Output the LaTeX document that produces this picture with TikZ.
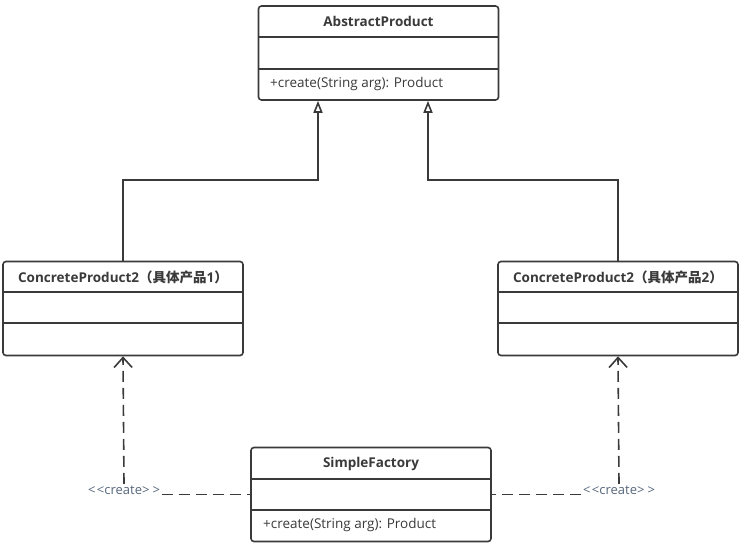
\documentclass[tikz,border=0pt]{standalone}
\usepackage{fontspec}
\setmainfont{Open Sans}
\newfontfamily\cjk{Noto Sans CJK SC}
\newfontfamily\lblfont{Open Sans}
\usetikzlibrary{arrows.meta}
\definecolor{ln}{HTML}{3A3A3A}
\definecolor{lbltext}{HTML}{56677A}
\tikzset{
  classbox/.style={draw=ln, line width=1.6pt, rounded corners=3pt, minimum width=240pt, minimum height=94pt, inner sep=0pt, fill=white},
  divider/.style={draw=ln, line width=1.6pt},
  title/.style={font=\fontsize{13.5}{15}\selectfont\bfseries, text=ln, inner sep=0pt},
  member/.style={font=\fontsize{13.5}{15}\selectfont, text=ln, inner sep=0pt, anchor=west},
  inherit/.style={draw=ln, line width=1.6pt, -{Triangle[open, length=12pt, width=9pt, fill=white]}},
  dep/.style={draw=ln, line width=1.6pt, dash pattern=on 11pt off 6pt},
  deparrow/.style={dep, -{Straight Barb[length=10pt, width=18pt]}},
  lbl/.style={font=\lblfont\fontsize{13}{15}\selectfont, text=lbltext, inner sep=1.5pt}
}
\begin{document}
\begin{tikzpicture}[x=1pt, y=-1pt]
\useasboundingbox (0,0) rectangle (753,548);
% AbstractProduct
\node[classbox] (ap) at (378.5,53) {};
\draw[divider] (ap.west |- 0,37) -- (ap.east |- 0,37);
\draw[divider] (ap.west |- 0,69) -- (ap.east |- 0,69);
\node[title] (apt) at (378.5,21) {AbstractProduct};
\node[member] (apm) at (270,84) {+create(String arg): Product};
% Concrete 1
\node[classbox] (c1) at (123,308.5) {};
\draw[divider] (c1.west |- 0,292) -- (c1.east |- 0,292);
\draw[divider] (c1.west |- 0,323) -- (c1.east |- 0,323);
\node[title] (c1t) at (123,277) {ConcreteProduct2{\cjk（具体产品}1{\cjk）}};
% Concrete 2
\node[classbox] (c2) at (618,308.5) {};
\draw[divider] (c2.west |- 0,292) -- (c2.east |- 0,292);
\draw[divider] (c2.west |- 0,323) -- (c2.east |- 0,323);
\node[title] (c2t) at (618,277) {ConcreteProduct2{\cjk（具体产品}2{\cjk）}};
% SimpleFactory
\node[classbox] (sf) at (371,494.5) {};
\draw[divider] (sf.west |- 0,479) -- (sf.east |- 0,479);
\draw[divider] (sf.west |- 0,510) -- (sf.east |- 0,510);
\node[title] (sft) at (371,464) {SimpleFactory};
\node[member] (sfm) at (263,525) {+create(String arg): Product};
% inheritance
\coordinate (j1) at (318,180);
\coordinate (j2) at (428,180);
\draw[inherit] (c1.north) |- (j1) -- (j1 |- ap.south);
\draw[inherit] (c2.north) |- (j2) -- (j2 |- ap.south);
% dependencies
\node[lbl] (l1) at (124,490) {<\kern1.5pt<create>\kern3pt>};
\node[lbl] (l2) at (619,490) {<\kern1.5pt<create>\kern3pt>};
\draw[dep] (sf.west -| l1.east) -- (sf.west);
\draw[dep] (sf.east -| l2.west) -- (sf.east);
\draw[deparrow] (l1.north) -- (c1.south);
\draw[deparrow] (l2.north) -- (c2.south);
\end{tikzpicture}
\end{document}
